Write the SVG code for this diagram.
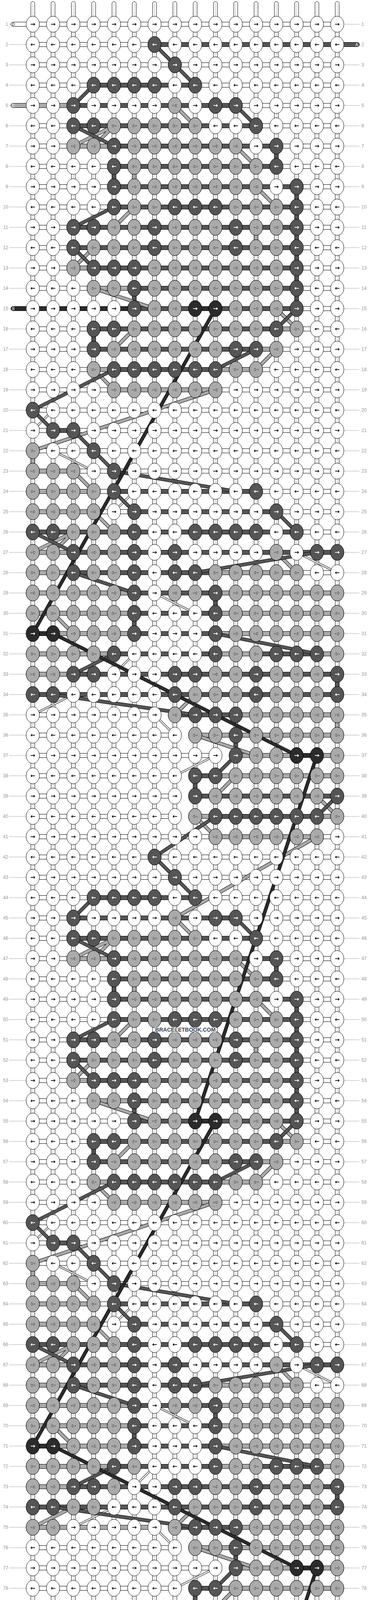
<svg xmlns="http://www.w3.org/2000/svg" width="948" height="5272" viewBox="0 0 948 5272">
<style>
.t{font-family:"DejaVu Sans",sans-serif;font-weight:bold;font-size:15px;text-anchor:middle}
.tc{fill:#fff;stroke:#333;stroke-width:.8px}
.l{font-family:"Liberation Sans",Arial,sans-serif;font-size:12px;fill:#999}
.le{text-anchor:end}
.s{font-family:"Liberation Sans",Arial,sans-serif;font-size:10px;text-anchor:middle}
.hA{fill:#555;stroke:#000}
.hB{fill:#2b2b2b;stroke:#000}
.hC{fill:#aaa;stroke:#000}
.hW{fill:#fff;stroke:#000}
.oD{fill:none;stroke:#000;stroke-width:9}
.fA{fill:none;stroke:#555;stroke-width:7}
.fB{fill:none;stroke:#2b2b2b;stroke-width:7}
.fC{fill:none;stroke:#aaa;stroke-width:7}
.oW{fill:none;stroke:#000;stroke-width:5}
.fW{fill:none;stroke:#fff;stroke-width:3}
.wm{font-family:"Liberation Sans",Arial,sans-serif;font-size:14px;font-weight:bold;fill:#444;text-anchor:middle;stroke:#fff;stroke-width:3px;paint-order:stroke}
</style>
<defs>
<pattern id="ts" x="58" y="0" width="52" height="60" patternUnits="userSpaceOnUse"><rect x="21" y="4" width="10" height="70" rx="5" fill="#fff" stroke="#000"/><rect x="25.4" y="9" width="1.2" height="60" fill="#bbb"/></pattern>
<pattern id="bs" x="58" y="5200" width="52" height="72" patternUnits="userSpaceOnUse"><rect x="21" y="-10" width="10" height="77" rx="5" fill="#fff" stroke="#000"/><rect x="25.4" y="0" width="1.2" height="62" fill="#bbb"/></pattern>
<pattern id="vc" x="58" y="62" width="52" height="52" patternUnits="userSpaceOnUse"><rect x="21" y="14" width="10" height="24" fill="#fff" stroke="#000"/><rect x="25.4" y="14" width="1.2" height="24" fill="#bbb"/></pattern>
<pattern id="hc" x="84" y="36" width="52" height="52" patternUnits="userSpaceOnUse"><rect x="10" y="20.5" width="32" height="11" fill="#fff" stroke="#000"/></pattern>
<pattern id="gl" x="0" y="36" width="10" height="52" patternUnits="userSpaceOnUse"><rect x="0" y="25.5" width="10" height="1" fill="#aaa"/></pattern>
<pattern id="wk" x="58" y="36" width="52" height="104" patternUnits="userSpaceOnUse"><ellipse cx="26" cy="26" rx="17" ry="20.5" fill="#fff" stroke="#000"/><text class="t" x="26" y="31">→</text><ellipse cx="26" cy="78" rx="17" ry="20.5" fill="#fff" stroke="#000"/><text class="t" x="26" y="83">←</text></pattern>
<g id="aR"><ellipse rx="17" ry="20.5" fill="#555" stroke="#000"/><text class="t" y="5" fill="#fff">→</text></g>
<g id="aL"><ellipse rx="17" ry="20.5" fill="#555" stroke="#000"/><text class="t" y="5" fill="#fff">←</text></g>
<g id="bR"><ellipse rx="17" ry="20.5" fill="#2b2b2b" stroke="#000"/><text class="t" y="5" fill="#fff">→</text></g>
<g id="bL"><ellipse rx="17" ry="20.5" fill="#2b2b2b" stroke="#000"/><text class="t" y="5" fill="#fff">←</text></g>
<g id="cR"><ellipse rx="17" ry="20.5" fill="#aaa" stroke="#000"/><text class="t tc" y="5">→</text></g>
<g id="cL"><ellipse rx="17" ry="20.5" fill="#aaa" stroke="#000"/><text class="t tc" y="5">←</text></g>

<g id="K1">
<g transform="translate(0,114)"><use href="#aL" x="396"/></g>
<g transform="translate(0,166)"><use href="#aR" x="448"/></g>
<g transform="translate(0,218)"><use href="#aL" x="240"/><use href="#aL" x="292"/><use href="#aL" x="344"/><use href="#aL" x="396"/><use href="#aL" x="500"/></g>
<g transform="translate(0,270)"><use href="#aR" x="188"/><use href="#cR" x="448"/><use href="#aR" x="552"/><use href="#aR" x="604"/></g>
<g transform="translate(0,322)"><use href="#aL" x="188"/><use href="#aL" x="240"/><use href="#cL" x="292"/><use href="#cL" x="344"/><use href="#cL" x="396"/><use href="#cL" x="448"/><use href="#cL" x="500"/><use href="#aL" x="656"/></g>
<g transform="translate(0,374)"><use href="#cR" x="188"/><use href="#cR" x="240"/><use href="#aR" x="292"/><use href="#cR" x="344"/><use href="#cR" x="396"/><use href="#cR" x="448"/><use href="#cR" x="500"/><use href="#cR" x="552"/><use href="#cR" x="604"/><use href="#aR" x="708"/></g>
<g transform="translate(0,426)"><use href="#aL" x="292"/><use href="#cL" x="344"/><use href="#cL" x="396"/><use href="#cL" x="448"/><use href="#cL" x="500"/><use href="#cL" x="552"/><use href="#cL" x="604"/><use href="#cL" x="656"/><use href="#aL" x="708"/></g>
<g transform="translate(0,478)"><use href="#aR" x="292"/><use href="#cR" x="344"/><use href="#cR" x="396"/><use href="#cR" x="448"/><use href="#cR" x="500"/><use href="#cR" x="552"/><use href="#cR" x="604"/><use href="#cR" x="656"/><use href="#aR" x="760"/></g>
<g transform="translate(0,530)"><use href="#aL" x="292"/><use href="#cL" x="344"/><use href="#cL" x="396"/><use href="#aL" x="448"/><use href="#aL" x="500"/><use href="#aL" x="552"/><use href="#cL" x="604"/><use href="#cL" x="656"/><use href="#cL" x="708"/><use href="#aL" x="760"/></g>
<g transform="translate(0,582)"><use href="#aR" x="188"/><use href="#aR" x="240"/><use href="#cR" x="292"/><use href="#cR" x="344"/><use href="#aR" x="396"/><use href="#cR" x="448"/><use href="#cR" x="500"/><use href="#cR" x="552"/><use href="#aR" x="604"/><use href="#cR" x="656"/><use href="#cR" x="708"/><use href="#aR" x="760"/></g>
<g transform="translate(0,634)"><use href="#aL" x="188"/><use href="#cL" x="240"/><use href="#cL" x="292"/><use href="#cL" x="344"/><use href="#aL" x="396"/><use href="#cL" x="448"/><use href="#cL" x="500"/><use href="#cL" x="552"/><use href="#aL" x="604"/><use href="#cL" x="656"/><use href="#cL" x="708"/><use href="#aL" x="760"/></g>
<g transform="translate(0,686)"><use href="#cR" x="188"/><use href="#aR" x="240"/><use href="#aR" x="292"/><use href="#aR" x="344"/><use href="#cR" x="396"/><use href="#cR" x="448"/><use href="#cR" x="500"/><use href="#cR" x="552"/><use href="#cR" x="604"/><use href="#cR" x="656"/><use href="#cR" x="708"/><use href="#aR" x="760"/></g>
<g transform="translate(0,738)"><use href="#cL" x="240"/><use href="#cL" x="292"/><use href="#aL" x="344"/><use href="#cL" x="396"/><use href="#cL" x="448"/><use href="#cL" x="500"/><use href="#cL" x="552"/><use href="#cL" x="604"/><use href="#cL" x="656"/><use href="#cL" x="708"/><use href="#aL" x="760"/></g>
<g transform="translate(0,790)"><use href="#aR" x="344"/><use href="#cR" x="396"/><use href="#cR" x="448"/><use href="#bR" x="500"/><use href="#bR" x="552"/><use href="#cR" x="604"/><use href="#cR" x="656"/><use href="#cR" x="708"/><use href="#aR" x="760"/></g>
<g transform="translate(0,842)"><use href="#aL" x="240"/><use href="#aL" x="292"/><use href="#cL" x="344"/><use href="#cL" x="396"/><use href="#cL" x="448"/><use href="#cL" x="500"/><use href="#cL" x="552"/><use href="#cL" x="604"/><use href="#cL" x="656"/><use href="#aL" x="708"/><use href="#cL" x="760"/></g>
<g transform="translate(0,894)"><use href="#aR" x="240"/><use href="#cR" x="292"/><use href="#cR" x="344"/><use href="#cR" x="396"/><use href="#cR" x="448"/><use href="#cR" x="500"/><use href="#cR" x="552"/><use href="#aR" x="604"/><use href="#aR" x="656"/><use href="#cR" x="708"/></g>
<g transform="translate(0,946)"><use href="#cL" x="240"/><use href="#aL" x="292"/><use href="#aL" x="344"/><use href="#aL" x="396"/><use href="#aL" x="448"/><use href="#aL" x="500"/><use href="#aL" x="552"/><use href="#cL" x="604"/><use href="#cL" x="656"/></g>
<g transform="translate(0,998)"><use href="#cR" x="292"/><use href="#cR" x="344"/><use href="#cR" x="396"/><use href="#cR" x="448"/><use href="#cR" x="500"/><use href="#cR" x="552"/></g>
</g>

<g id="K2">
<g transform="translate(0,1050)"><use href="#aL" x="84"/></g>
<g transform="translate(0,1102)"><use href="#aR" x="136"/><use href="#aR" x="188"/></g>
<g transform="translate(0,1154)"><use href="#cL" x="84"/><use href="#aL" x="240"/></g>
<g transform="translate(0,1206)"><use href="#cR" x="84"/><use href="#cR" x="136"/><use href="#cR" x="188"/><use href="#aR" x="292"/></g>
<g transform="translate(0,1258)"><use href="#cL" x="84"/><use href="#cL" x="136"/><use href="#cL" x="188"/><use href="#cL" x="240"/><use href="#aL" x="292"/><use href="#aL" x="656"/></g>
<g transform="translate(0,1310)"><use href="#cR" x="84"/><use href="#cR" x="136"/><use href="#cR" x="188"/><use href="#cR" x="240"/><use href="#aR" x="344"/><use href="#aR" x="708"/></g>
<g transform="translate(0,1362)"><use href="#aL" x="84"/><use href="#aL" x="136"/><use href="#cL" x="188"/><use href="#cL" x="240"/><use href="#cL" x="292"/><use href="#aL" x="344"/><use href="#aL" x="500"/><use href="#aL" x="552"/><use href="#aL" x="604"/><use href="#aL" x="656"/><use href="#aL" x="760"/></g>
<g transform="translate(0,1414)"><use href="#cR" x="84"/><use href="#cR" x="136"/><use href="#aR" x="188"/><use href="#cR" x="240"/><use href="#cR" x="292"/><use href="#aR" x="344"/><use href="#aR" x="448"/><use href="#cR" x="708"/><use href="#aR" x="812"/><use href="#aR" x="864"/></g>
<g transform="translate(0,1466)"><use href="#cL" x="84"/><use href="#cL" x="136"/><use href="#aL" x="188"/><use href="#cL" x="240"/><use href="#cL" x="292"/><use href="#aL" x="344"/><use href="#aL" x="448"/><use href="#aL" x="500"/><use href="#cL" x="552"/><use href="#cL" x="604"/><use href="#cL" x="656"/><use href="#cL" x="708"/><use href="#cL" x="760"/></g>
<g transform="translate(0,1518)"><use href="#cR" x="84"/><use href="#cR" x="136"/><use href="#cR" x="188"/><use href="#cR" x="240"/><use href="#cR" x="292"/><use href="#aR" x="344"/><use href="#cR" x="448"/><use href="#cR" x="500"/><use href="#aR" x="552"/><use href="#cR" x="604"/><use href="#cR" x="656"/><use href="#cR" x="708"/><use href="#cR" x="760"/><use href="#cR" x="812"/><use href="#cR" x="864"/></g>
<g transform="translate(0,1570)"><use href="#cL" x="84"/><use href="#cL" x="136"/><use href="#cL" x="188"/><use href="#cL" x="240"/><use href="#cL" x="292"/><use href="#aL" x="344"/><use href="#aL" x="552"/><use href="#cL" x="604"/><use href="#cL" x="656"/><use href="#cL" x="708"/><use href="#cL" x="760"/><use href="#cL" x="812"/><use href="#cL" x="864"/></g>
<g transform="translate(0,1622)"><use href="#bR" x="84"/><use href="#bR" x="136"/><use href="#cR" x="188"/><use href="#cR" x="240"/><use href="#cR" x="292"/><use href="#aR" x="344"/><use href="#aR" x="552"/><use href="#cR" x="604"/><use href="#cR" x="656"/><use href="#cR" x="708"/><use href="#cR" x="760"/><use href="#cR" x="812"/><use href="#cR" x="864"/></g>
<g transform="translate(0,1882)"><use href="#cL" x="500"/><use href="#cL" x="552"/><use href="#aL" x="604"/><use href="#cL" x="656"/><use href="#cL" x="708"/><use href="#cL" x="760"/><use href="#cL" x="812"/><use href="#cL" x="864"/></g>
<g transform="translate(0,1934)"><use href="#aR" x="604"/><use href="#cR" x="656"/><use href="#cR" x="708"/><use href="#bR" x="760"/><use href="#bR" x="812"/><use href="#cR" x="864"/></g>
<g transform="translate(0,1986)"><use href="#aL" x="500"/><use href="#aL" x="552"/><use href="#cL" x="604"/><use href="#cL" x="656"/><use href="#cL" x="708"/><use href="#cL" x="760"/><use href="#cL" x="812"/><use href="#cL" x="864"/></g>
<g transform="translate(0,2038)"><use href="#aR" x="500"/><use href="#cR" x="552"/><use href="#cR" x="604"/><use href="#cR" x="656"/><use href="#cR" x="708"/><use href="#cR" x="760"/><use href="#cR" x="812"/><use href="#aR" x="864"/></g>
<g transform="translate(0,2090)"><use href="#cL" x="500"/><use href="#aL" x="552"/><use href="#aL" x="604"/><use href="#aL" x="656"/><use href="#aL" x="708"/><use href="#aL" x="760"/><use href="#aL" x="812"/><use href="#cL" x="864"/></g>
<g transform="translate(0,2142)"><use href="#cR" x="552"/><use href="#cR" x="604"/><use href="#cR" x="656"/><use href="#cR" x="708"/><use href="#cR" x="760"/><use href="#cR" x="812"/></g>
</g>

<g id="H1">
<rect x="240" y="212.5" width="260" height="11" class="hA"/>
<rect x="188" y="264.5" width="416" height="11" class="hA"/>
<rect x="188" y="316.5" width="468" height="11" class="hA"/>
<rect x="188" y="368.5" width="104" height="11" class="hC"/><rect x="292" y="368.5" width="416" height="11" class="hA"/>
<rect x="292" y="420.5" width="416" height="11" class="hA"/>
<rect x="292" y="472.5" width="468" height="11" class="hA"/>
<rect x="292" y="524.5" width="468" height="11" class="hA"/>
<rect x="188" y="576.5" width="572" height="11" class="hA"/>
<rect x="188" y="628.5" width="572" height="11" class="hA"/>
<rect x="188" y="680.5" width="52" height="11" class="hC"/><rect x="240" y="680.5" width="520" height="11" class="hA"/>
<rect x="240" y="732.5" width="104" height="11" class="hC"/><rect x="344" y="732.5" width="416" height="11" class="hA"/>
<rect x="344" y="784.5" width="416" height="11" class="hA"/><rect x="500" y="784.5" width="52" height="11" class="hB"/>
<rect x="240" y="836.5" width="468" height="11" class="hA"/><rect x="708" y="836.5" width="52" height="11" class="hC"/>
<rect x="240" y="888.5" width="416" height="11" class="hA"/><rect x="656" y="888.5" width="52" height="11" class="hC"/>
</g>
<g id="H2">
<rect x="240" y="940.5" width="52" height="11" class="hC"/><rect x="292" y="940.5" width="260" height="11" class="hA"/><rect x="552" y="940.5" width="104" height="11" class="hC"/>
<rect x="292" y="992.5" width="260" height="11" class="hC"/>
</g>
<g id="H3">
<rect x="136" y="1096.5" width="52" height="11" class="hA"/>
<rect x="84" y="1200.5" width="104" height="11" class="hC"/>
<rect x="84" y="1252.5" width="156" height="11" class="hC"/><rect x="292" y="1252.5" width="364" height="11" class="hA"/>
<rect x="84" y="1304.5" width="156" height="11" class="hC"/><rect x="344" y="1304.5" width="364" height="11" class="hA"/>
<rect x="84" y="1356.5" width="676" height="11" class="hA"/>
<rect x="84" y="1408.5" width="104" height="11" class="hC"/><rect x="188" y="1408.5" width="676" height="11" class="hA"/>
<rect x="84" y="1460.5" width="104" height="11" class="hC"/><rect x="188" y="1460.5" width="364" height="11" class="hA"/><rect x="552" y="1460.5" width="208" height="11" class="hC"/>
<rect x="84" y="1512.5" width="260" height="11" class="hC"/><rect x="344" y="1512.5" width="208" height="11" class="hA"/><rect x="552" y="1512.5" width="312" height="11" class="hC"/>
<rect x="84" y="1564.5" width="260" height="11" class="hC"/><rect x="344" y="1564.5" width="208" height="11" class="hA"/><rect x="552" y="1564.5" width="312" height="11" class="hC"/>
<rect x="84" y="1616.5" width="52" height="11" class="hB"/><rect x="136" y="1616.5" width="208" height="11" class="hC"/><rect x="344" y="1616.5" width="208" height="11" class="hA"/><rect x="552" y="1616.5" width="312" height="11" class="hC"/>
<rect x="84" y="1668.5" width="208" height="11" class="hC"/><rect x="292" y="1668.5" width="260" height="11" class="hA"/><rect x="552" y="1668.5" width="104" height="11" class="hC"/><rect x="656" y="1668.5" width="156" height="11" class="hA"/><rect x="812" y="1668.5" width="52" height="11" class="hC"/>
<rect x="84" y="1720.5" width="104" height="11" class="hC"/><rect x="188" y="1720.5" width="676" height="11" class="hA"/>
<rect x="84" y="1772.5" width="780" height="11" class="hA"/>
<rect x="448" y="1824.5" width="156" height="11" class="hA"/><rect x="604" y="1824.5" width="260" height="11" class="hC"/>
<rect x="500" y="1876.5" width="364" height="11" class="hC"/>
<rect x="604" y="1928.5" width="156" height="11" class="hC"/><rect x="760" y="1928.5" width="52" height="11" class="hB"/><rect x="812" y="1928.5" width="52" height="11" class="hC"/>
<rect x="500" y="1980.5" width="52" height="11" class="hA"/><rect x="552" y="1980.5" width="312" height="11" class="hC"/>
<rect x="500" y="2032.5" width="364" height="11" class="hA"/>
<rect x="500" y="2084.5" width="52" height="11" class="hC"/><rect x="552" y="2084.5" width="260" height="11" class="hA"/><rect x="812" y="2084.5" width="52" height="11" class="hC"/>
<rect x="552" y="2136.5" width="260" height="11" class="hC"/>
</g>
<g id="GP" fill="#fff">
<rect x="411" y="1823" width="22" height="14"/><rect x="463" y="1875" width="22" height="14"/><rect x="567" y="1927" width="22" height="14"/><rect x="463" y="1979" width="22" height="14"/><rect x="463" y="2031" width="22" height="14"/><rect x="463" y="2083" width="22" height="14"/>
</g>
<g id="V1">
<rect x="703" y="388" width="10" height="24" class="hA"/><rect x="287" y="440" width="10" height="24" class="hA"/><rect x="339" y="440" width="10" height="24" class="hC"/><rect x="755" y="492" width="10" height="24" class="hA"/><rect x="755" y="544" width="10" height="24" class="hA"/><rect x="755" y="596" width="10" height="24" class="hA"/><rect x="651" y="596" width="10" height="24" class="hC"/><rect x="755" y="648" width="10" height="24" class="hA"/><rect x="755" y="700" width="10" height="24" class="hA"/><rect x="339" y="752" width="10" height="24" class="hA"/><rect x="755" y="752" width="10" height="24" class="hA"/><rect x="235" y="856" width="10" height="24" class="hA"/>
</g>
<g id="V2">
<rect x="79" y="1168" width="10" height="24" class="hC"/><rect x="547" y="1532" width="10" height="24" class="hA"/><rect x="339" y="1584" width="10" height="24" class="hA"/><rect x="859" y="1740" width="10" height="24" class="hA"/><rect x="859" y="1844" width="10" height="24" class="hC"/><rect x="599" y="1896" width="10" height="24" class="hA"/><rect x="495" y="2000" width="10" height="24" class="hA"/>
</g>
<path id="pA1" d="M396 114L448 166M448 166L500 218M240 218L188 270M604 270L656 322M188 322L292 374M292 530L188 582M188 634L240 686M760 790L708 842M656 894L552 946"/>
<path id="pC1" d="M448 270L500 322M292 322L188 374M292 322L240 374M604 374L656 426M656 478L708 530M344 530L292 582M240 634L188 686M240 738L396 790M708 790L760 842M344 842L292 894M708 894L656 946M240 946L292 998"/>
<path id="pA2" d="M292 946L84 1050M84 1050L136 1102M188 1102L240 1154M240 1154L292 1206M292 1206L604 1258M292 1258L344 1310M708 1310L760 1362M84 1362L188 1414M812 1414L500 1466M188 1466L344 1518M552 1622L812 1674M292 1674L188 1726M136 1778L500 1830M604 1934L552 1986M864 2038L812 2090M552 2090L396 2194"/>
<path id="pC2" d="M552 998L84 1154M188 1206L240 1258M240 1310L292 1362M188 1362L84 1414M188 1362L136 1414M708 1414L760 1466M136 1570L188 1622M500 1778L448 1830M500 1882L656 1934M604 1986L552 2038M812 2038L864 2090M500 2090L552 2142M812 2142L448 2350"/>
<path id="pW2" d="M136 1050L84 1102M136 1154L240 1206M344 1258L292 1310M760 1414L864 1466M396 1518L500 1570M396 1830L448 1882M552 1934L448 1986"/>
<path id="pWs" d="M344 1674L292 1726M188 1778L84 1830M396 3754L344 3806M292 3858L188 3910"/>
<path id="pCs" d="M188 3858L84 3910"/>
<path id="pB" d="M552 790L84 1622M136 1622L760 1934M812 1934L500 2870M552 2870L84 3702M136 3702L760 4014M812 4014L500 4950"/>
</defs>

<rect width="948" height="5272" fill="#fff"/>

<g id="strands">
<rect x="58" y="0" width="832" height="50" fill="url(#ts)"/>
<rect x="58" y="5220" width="832" height="52" fill="url(#bs)"/>
<rect x="23" y="36" width="44" height="5200" fill="url(#gl)"/>
<rect x="881" y="36" width="40" height="5200" fill="url(#gl)"/>
</g>

<g id="connectors">
<rect x="58" y="62" width="832" height="5148" fill="url(#vc)"/>
<rect x="84" y="36" width="780" height="5200" fill="url(#hc)"/>
<use href="#GP"/><use href="#GP" y="2080"/>
<rect x="411" y="3903" width="22" height="14" fill="#fff"/>
<use href="#V1"/><use href="#V1" y="2080"/><use href="#V1" y="4160"/>
<use href="#V2"/><use href="#V2" y="2080"/>
<use href="#H1"/><use href="#H1" y="2080"/><use href="#H1" y="4160"/>
<use href="#H2"/><use href="#H2" y="2080"/>
<use href="#H3"/><use href="#H3" y="2080"/>
<rect x="396" y="108.5" width="468" height="11" class="hA"/>
<rect x="84" y="264.5" width="104" height="11" class="hC"/>
<rect x="84" y="784.5" width="260" height="11" class="hB"/>
<rect x="84" y="3904.5" width="312" height="11" class="hC"/>
<rect x="760" y="4944.5" width="104" height="11" class="hB"/>
<rect x="84" y="5100.5" width="468" height="11" class="hA"/><rect x="552" y="5100.5" width="104" height="11" class="hC"/>
<rect x="292" y="5152.5" width="572" height="11" class="hC"/>
<g id="stubs">
<rect x="28" y="56.5" width="60" height="11" rx="5.5" class="hW"/><text class="s" x="34" y="65.5" fill="#000">D</text>
<rect x="860" y="108.5" width="61" height="11" rx="5.5" class="hA"/><text class="s" x="914" y="117.5" fill="#fff">A</text>
<rect x="28" y="264.5" width="60" height="11" rx="5.5" class="hC"/><text class="s" x="34" y="273.5" fill="#fff">C</text>
<rect x="28" y="784.5" width="60" height="11" rx="5.5" class="hB"/><text class="s" x="34" y="793.5" fill="#fff">B</text>
<rect x="860" y="4944.5" width="61" height="11" rx="5.5" class="hB"/><text class="s" x="914" y="4953.5" fill="#fff">B</text>
<rect x="28" y="5100.5" width="60" height="11" rx="5.5" class="hA"/><text class="s" x="34" y="5109.5" fill="#fff">A</text>
<rect x="860" y="5152.5" width="61" height="11" rx="5.5" class="hC"/><text class="s" x="914" y="5161.5" fill="#fff">C</text>
<rect x="28" y="5204.5" width="60" height="11" rx="5.5" class="hW"/><text class="s" x="34" y="5213.5" fill="#000">D</text>
</g>
<g id="diagonals">
<use href="#pW2" class="oW"/><use href="#pW2" class="fW"/>
<use href="#pW2" class="oW" y="2080"/><use href="#pW2" class="fW" y="2080"/>
<use href="#pWs" class="oW"/><use href="#pWs" class="fW"/>
<use href="#pC1" class="oD"/><use href="#pC1" class="fC"/>
<use href="#pC1" class="oD" y="2080"/><use href="#pC1" class="fC" y="2080"/>
<use href="#pC1" class="oD" y="4160"/><use href="#pC1" class="fC" y="4160"/>
<use href="#pC2" class="oD"/><use href="#pC2" class="fC"/>
<use href="#pC2" class="oD" y="2080"/><use href="#pC2" class="fC" y="2080"/>
<use href="#pCs" class="oD"/><use href="#pCs" class="fC"/>
<use href="#pA1" class="oD"/><use href="#pA1" class="fA"/>
<use href="#pA1" class="oD" y="2080"/><use href="#pA1" class="fA" y="2080"/>
<use href="#pA1" class="oD" y="4160"/><use href="#pA1" class="fA" y="4160"/>
<use href="#pA2" class="oD"/><use href="#pA2" class="fA"/>
<use href="#pA2" class="oD" y="2080"/><use href="#pA2" class="fA" y="2080"/>
<use href="#pB" class="oD"/><use href="#pB" class="fB"/>
</g>
</g>

<g id="knots">
<rect x="58" y="36" width="832" height="5200" fill="url(#wk)"/>
<use href="#K1"/><use href="#K1" y="2080"/><use href="#K1" y="4160"/>
<use href="#K2"/><use href="#K2" y="2080"/>
<g id="K3">
<g transform="translate(0,1674)"><use href="#cL" x="84"/><use href="#cL" x="136"/><use href="#cL" x="188"/><use href="#cL" x="240"/><use href="#aL" x="292"/><use href="#aL" x="552"/><use href="#cL" x="604"/><use href="#cL" x="656"/><use href="#aL" x="708"/><use href="#aL" x="760"/><use href="#aL" x="812"/><use href="#cL" x="864"/></g>
<g transform="translate(0,1726)"><use href="#cR" x="84"/><use href="#cR" x="136"/><use href="#aR" x="188"/><use href="#aR" x="240"/><use href="#aR" x="448"/><use href="#aR" x="500"/><use href="#cR" x="552"/><use href="#cR" x="604"/><use href="#aR" x="656"/><use href="#cR" x="708"/><use href="#cR" x="760"/><use href="#cR" x="812"/><use href="#aR" x="864"/></g>
<g transform="translate(0,1778)"><use href="#aL" x="84"/><use href="#aL" x="136"/><use href="#aL" x="448"/><use href="#cL" x="500"/><use href="#cL" x="552"/><use href="#cL" x="604"/><use href="#aL" x="656"/><use href="#cL" x="708"/><use href="#cL" x="760"/><use href="#cL" x="812"/><use href="#aL" x="864"/></g>
<g transform="translate(0,1830)"><use href="#cR" x="448"/><use href="#aR" x="500"/><use href="#aR" x="552"/><use href="#aR" x="604"/><use href="#cR" x="656"/><use href="#cR" x="708"/><use href="#cR" x="760"/><use href="#cR" x="812"/><use href="#cR" x="864"/></g>
</g>
<g id="K4">
<g transform="translate(0,3754)"><use href="#cL" x="84"/><use href="#cL" x="136"/><use href="#cL" x="188"/><use href="#cL" x="240"/><use href="#aL" x="292"/><use href="#cL" x="344"/><use href="#aL" x="552"/><use href="#cL" x="604"/><use href="#cL" x="656"/><use href="#aL" x="708"/><use href="#aL" x="760"/><use href="#aL" x="812"/><use href="#cL" x="864"/></g>
<g transform="translate(0,3806)"><use href="#cR" x="84"/><use href="#cR" x="136"/><use href="#aR" x="188"/><use href="#aR" x="240"/><use href="#cR" x="292"/><use href="#aR" x="448"/><use href="#aR" x="500"/><use href="#cR" x="552"/><use href="#cR" x="604"/><use href="#aR" x="656"/><use href="#cR" x="708"/><use href="#cR" x="760"/><use href="#cR" x="812"/><use href="#aR" x="864"/></g>
<g transform="translate(0,3858)"><use href="#aL" x="84"/><use href="#aL" x="136"/><use href="#cL" x="188"/><use href="#cL" x="240"/><use href="#aL" x="448"/><use href="#cL" x="500"/><use href="#cL" x="552"/><use href="#cL" x="604"/><use href="#aL" x="656"/><use href="#cL" x="708"/><use href="#cL" x="760"/><use href="#cL" x="812"/><use href="#aL" x="864"/></g>
<g transform="translate(0,3910)"><use href="#cR" x="84"/><use href="#cR" x="136"/><use href="#cR" x="448"/><use href="#aR" x="500"/><use href="#aR" x="552"/><use href="#aR" x="604"/><use href="#cR" x="656"/><use href="#cR" x="708"/><use href="#cR" x="760"/><use href="#cR" x="812"/><use href="#cR" x="864"/></g>
</g>
</g>

<g id="labels-left" class="l le">
<text x="21" y="66">1</text><text x="21" y="118">2</text><text x="21" y="170">3</text><text x="21" y="222">4</text><text x="21" y="274">5</text><text x="21" y="326">6</text><text x="21" y="378">7</text><text x="21" y="430">8</text><text x="21" y="482">9</text><text x="21" y="534">10</text>
<text x="21" y="586">11</text><text x="21" y="638">12</text><text x="21" y="690">13</text><text x="21" y="742">14</text><text x="21" y="794">15</text><text x="21" y="846">16</text><text x="21" y="898">17</text><text x="21" y="950">18</text><text x="21" y="1002">19</text><text x="21" y="1054">20</text>
<text x="21" y="1106">21</text><text x="21" y="1158">22</text><text x="21" y="1210">23</text><text x="21" y="1262">24</text><text x="21" y="1314">25</text><text x="21" y="1366">26</text><text x="21" y="1418">27</text><text x="21" y="1470">28</text><text x="21" y="1522">29</text><text x="21" y="1574">30</text>
<text x="21" y="1626">31</text><text x="21" y="1678">32</text><text x="21" y="1730">33</text><text x="21" y="1782">34</text><text x="21" y="1834">35</text><text x="21" y="1886">36</text><text x="21" y="1938">37</text><text x="21" y="1990">38</text><text x="21" y="2042">39</text><text x="21" y="2094">40</text>
<text x="21" y="2146">41</text><text x="21" y="2198">42</text><text x="21" y="2250">43</text><text x="21" y="2302">44</text><text x="21" y="2354">45</text><text x="21" y="2406">46</text><text x="21" y="2458">47</text><text x="21" y="2510">48</text><text x="21" y="2562">49</text><text x="21" y="2614">50</text>
<text x="21" y="2666">51</text><text x="21" y="2718">52</text><text x="21" y="2770">53</text><text x="21" y="2822">54</text><text x="21" y="2874">55</text><text x="21" y="2926">56</text><text x="21" y="2978">57</text><text x="21" y="3030">58</text><text x="21" y="3082">59</text><text x="21" y="3134">60</text>
<text x="21" y="3186">61</text><text x="21" y="3238">62</text><text x="21" y="3290">63</text><text x="21" y="3342">64</text><text x="21" y="3394">65</text><text x="21" y="3446">66</text><text x="21" y="3498">67</text><text x="21" y="3550">68</text><text x="21" y="3602">69</text><text x="21" y="3654">70</text>
<text x="21" y="3706">71</text><text x="21" y="3758">72</text><text x="21" y="3810">73</text><text x="21" y="3862">74</text><text x="21" y="3914">75</text><text x="21" y="3966">76</text><text x="21" y="4018">77</text><text x="21" y="4070">78</text><text x="21" y="4122">79</text><text x="21" y="4174">80</text>
<text x="21" y="4226">81</text><text x="21" y="4278">82</text><text x="21" y="4330">83</text><text x="21" y="4382">84</text><text x="21" y="4434">85</text><text x="21" y="4486">86</text><text x="21" y="4538">87</text><text x="21" y="4590">88</text><text x="21" y="4642">89</text><text x="21" y="4694">90</text>
<text x="21" y="4746">91</text><text x="21" y="4798">92</text><text x="21" y="4850">93</text><text x="21" y="4902">94</text><text x="21" y="4954">95</text><text x="21" y="5006">96</text><text x="21" y="5058">97</text><text x="21" y="5110">98</text><text x="21" y="5162">99</text><text x="21" y="5214">100</text>
</g>
<g id="labels-right" class="l">
<text x="926" y="66">1</text><text x="926" y="118">2</text><text x="926" y="170">3</text><text x="926" y="222">4</text><text x="926" y="274">5</text><text x="926" y="326">6</text><text x="926" y="378">7</text><text x="926" y="430">8</text><text x="926" y="482">9</text><text x="926" y="534">10</text>
<text x="926" y="586">11</text><text x="926" y="638">12</text><text x="926" y="690">13</text><text x="926" y="742">14</text><text x="926" y="794">15</text><text x="926" y="846">16</text><text x="926" y="898">17</text><text x="926" y="950">18</text><text x="926" y="1002">19</text><text x="926" y="1054">20</text>
<text x="926" y="1106">21</text><text x="926" y="1158">22</text><text x="926" y="1210">23</text><text x="926" y="1262">24</text><text x="926" y="1314">25</text><text x="926" y="1366">26</text><text x="926" y="1418">27</text><text x="926" y="1470">28</text><text x="926" y="1522">29</text><text x="926" y="1574">30</text>
<text x="926" y="1626">31</text><text x="926" y="1678">32</text><text x="926" y="1730">33</text><text x="926" y="1782">34</text><text x="926" y="1834">35</text><text x="926" y="1886">36</text><text x="926" y="1938">37</text><text x="926" y="1990">38</text><text x="926" y="2042">39</text><text x="926" y="2094">40</text>
<text x="926" y="2146">41</text><text x="926" y="2198">42</text><text x="926" y="2250">43</text><text x="926" y="2302">44</text><text x="926" y="2354">45</text><text x="926" y="2406">46</text><text x="926" y="2458">47</text><text x="926" y="2510">48</text><text x="926" y="2562">49</text><text x="926" y="2614">50</text>
<text x="926" y="2666">51</text><text x="926" y="2718">52</text><text x="926" y="2770">53</text><text x="926" y="2822">54</text><text x="926" y="2874">55</text><text x="926" y="2926">56</text><text x="926" y="2978">57</text><text x="926" y="3030">58</text><text x="926" y="3082">59</text><text x="926" y="3134">60</text>
<text x="926" y="3186">61</text><text x="926" y="3238">62</text><text x="926" y="3290">63</text><text x="926" y="3342">64</text><text x="926" y="3394">65</text><text x="926" y="3446">66</text><text x="926" y="3498">67</text><text x="926" y="3550">68</text><text x="926" y="3602">69</text><text x="926" y="3654">70</text>
<text x="926" y="3706">71</text><text x="926" y="3758">72</text><text x="926" y="3810">73</text><text x="926" y="3862">74</text><text x="926" y="3914">75</text><text x="926" y="3966">76</text><text x="926" y="4018">77</text><text x="926" y="4070">78</text><text x="926" y="4122">79</text><text x="926" y="4174">80</text>
<text x="926" y="4226">81</text><text x="926" y="4278">82</text><text x="926" y="4330">83</text><text x="926" y="4382">84</text><text x="926" y="4434">85</text><text x="926" y="4486">86</text><text x="926" y="4538">87</text><text x="926" y="4590">88</text><text x="926" y="4642">89</text><text x="926" y="4694">90</text>
<text x="926" y="4746">91</text><text x="926" y="4798">92</text><text x="926" y="4850">93</text><text x="926" y="4902">94</text><text x="926" y="4954">95</text><text x="926" y="5006">96</text><text x="926" y="5058">97</text><text x="926" y="5110">98</text><text x="926" y="5162">99</text><text x="926" y="5214">100</text>
</g>
<text class="wm" x="475" y="2641">BRACELETBOOK.COM</text>
</svg>
